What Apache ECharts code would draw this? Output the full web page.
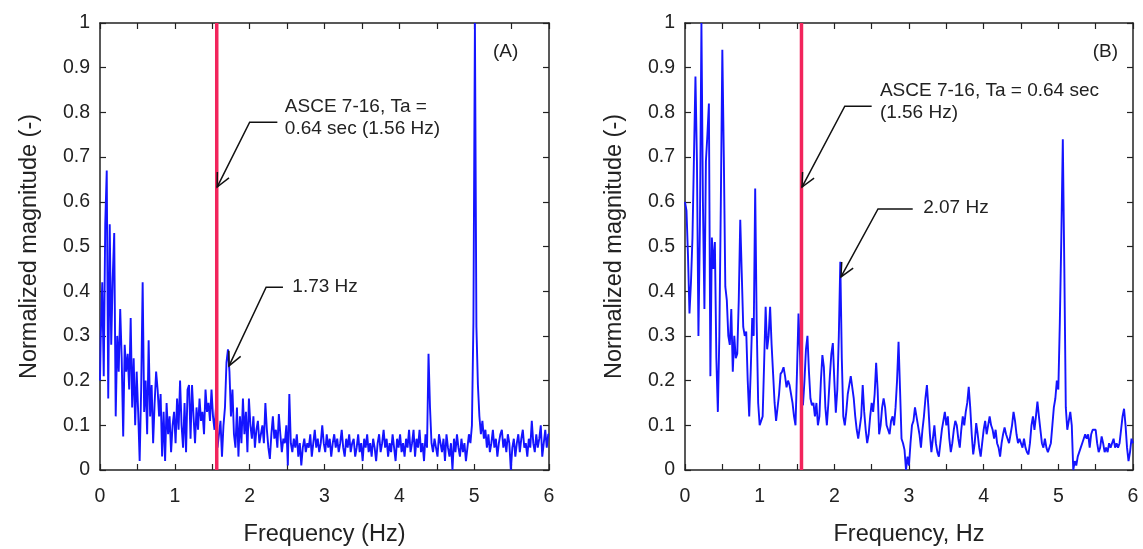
<!DOCTYPE html>
<html>
<head>
<meta charset="utf-8">
<title>Normalized magnitude spectra</title>
<script src="https://cdn.jsdelivr.net/npm/echarts@6/dist/echarts.min.js"></script>
<style>
  html, body { margin: 0; padding: 0; background: #fff; }
  #chart { width: 1143px; height: 549px; }
</style>
</head>
<body>
<div id="chart"></div>
<script>
  // frequency resolution of the read-off spectra (Hz)
  const freqStep = 0.02;

  // panel (A) normalized magnitude, 0 .. 6 Hz
  const magA = [
    0.20, 0.30, 0.42, 0.21, 0.55, 0.67, 0.16, 0.55, 0.28, 0.43,
    0.53, 0.12, 0.30, 0.22, 0.36, 0.25, 0.075, 0.28, 0.22, 0.26,
    0.18, 0.34, 0.14, 0.25, 0.10, 0.22, 0.13, 0.02, 0.18, 0.42,
    0.13, 0.20, 0.08, 0.29, 0.12, 0.19, 0.06, 0.15, 0.22, 0.18,
    0.12, 0.17, 0.03, 0.13, 0.02, 0.15, 0.08, 0.12, 0.04, 0.10,
    0.13, 0.06, 0.16, 0.09, 0.20, 0.10, 0.05, 0.15, 0.04, 0.18,
    0.19, 0.07, 0.19, 0.12, 0.06, 0.14, 0.09, 0.16, 0.11, 0.13,
    0.08, 0.18, 0.13, 0.15, 0.11, 0.18, 0.12, 0.09, 0.14, 0.05,
    0.08, 0.11, 0.03, 0.10, 0.14, 0.24, 0.27, 0.22, 0.12, 0.18,
    0.08, 0.05, 0.14, 0.03, 0.12, 0.06, 0.16, 0.08, 0.13, 0.04,
    0.16, 0.10, 0.07, 0.12, 0.05, 0.09, 0.11, 0.06, 0.08, 0.10,
    0.06, 0.15, 0.09, 0.05, 0.025, 0.08, 0.12, 0.07, 0.09, 0.05,
    0.125, 0.08, 0.04, 0.07, 0.06, 0.10, 0.01, 0.17, 0.06, 0.04,
    0.07, 0.05, 0.08, 0.03, 0.06, 0.01, 0.05, 0.07, 0.04, 0.06,
    0.05, 0.08, 0.03, 0.06, 0.09, 0.05, 0.07, 0.04, 0.06, 0.10,
    0.06, 0.04, 0.08, 0.05, 0.07, 0.03, 0.06, 0.08, 0.05, 0.07,
    0.04, 0.06, 0.09, 0.05, 0.03, 0.07, 0.05, 0.08, 0.04, 0.06,
    0.07, 0.03, 0.05, 0.08, 0.04, 0.06, 0.02, 0.07, 0.05, 0.08,
    0.04, 0.06, 0.03, 0.07, 0.05, 0.02, 0.06, 0.08, 0.04, 0.06,
    0.09, 0.05, 0.07, 0.03, 0.06, 0.04, 0.08, 0.05, 0.02, 0.07,
    0.05, 0.08, 0.04, 0.06, 0.03, 0.07, 0.05, 0.09, 0.04, 0.06,
    0.09, 0.03, 0.07, 0.05, 0.09, 0.04, 0.06, 0.02, 0.08, 0.05,
    0.26, 0.14, 0.06, 0.04, 0.07, 0.05, 0.03, 0.08, 0.06, 0.04,
    0.07, 0.02, 0.08, 0.05, 0.03, 0.06, 0.00, 0.07, 0.04, 0.08,
    0.05, 0.03, 0.07, 0.04, 0.06, 0.02, 0.05, 0.08, 0.06, 0.10,
    0.33, 1.00, 0.32, 0.19, 0.12, 0.08, 0.11, 0.07, 0.09, 0.05,
    0.08, 0.04, 0.06, 0.09, 0.05, 0.07, 0.03, 0.06, 0.08, 0.09,
    0.05, 0.07, 0.04, 0.08, 0.06, 0.00, 0.05, 0.07, 0.03, 0.06,
    0.08, 0.04, 0.07, 0.09, 0.05, 0.06, 0.03, 0.07, 0.05, 0.11,
    0.06, 0.04, 0.08, 0.05, 0.07, 0.10, 0.03, 0.06, 0.09, 0.05,
    0.08
  ];

  // panel (B) normalized magnitude, 0 .. 6 Hz
  const magB = [
    0.60, 0.58, 0.48, 0.35, 0.42, 0.52, 0.70, 0.88, 0.69, 0.30,
    0.55, 1.00, 0.60, 0.36, 0.69, 0.75, 0.82, 0.21, 0.52, 0.45,
    0.51, 0.25, 0.13, 0.30, 0.60, 0.94, 0.70, 0.41, 0.38, 0.30,
    0.28, 0.36, 0.22, 0.30, 0.25, 0.26, 0.38, 0.56, 0.44, 0.32,
    0.30, 0.31, 0.20, 0.12, 0.22, 0.34, 0.30, 0.63, 0.33, 0.15,
    0.10, 0.10, 0.12, 0.24, 0.365, 0.27, 0.30, 0.365, 0.28, 0.215,
    0.15, 0.11, 0.11, 0.17, 0.215, 0.22, 0.23, 0.21, 0.185, 0.20,
    0.19, 0.17, 0.15, 0.12, 0.10, 0.22, 0.35, 0.26, 0.15, 0.145,
    0.20, 0.27, 0.30, 0.22, 0.16, 0.145, 0.15, 0.12, 0.15, 0.10,
    0.12, 0.20, 0.257, 0.23, 0.14, 0.10, 0.15, 0.21, 0.26, 0.284,
    0.20, 0.128, 0.18, 0.30, 0.466, 0.25, 0.12, 0.10, 0.13, 0.17,
    0.19, 0.21, 0.21, 0.16, 0.12, 0.09, 0.07, 0.07, 0.12, 0.19,
    0.13, 0.09, 0.06, 0.08, 0.12, 0.15, 0.13, 0.17, 0.24, 0.18,
    0.08, 0.10, 0.14, 0.16, 0.14, 0.10, 0.09, 0.08, 0.11, 0.12,
    0.10, 0.14, 0.20, 0.287, 0.18, 0.07, 0.06, 0.045, 0.00, 0.03,
    0.01, 0.06, 0.10, 0.11, 0.14, 0.12, 0.10, 0.08, 0.05, 0.09,
    0.12, 0.16, 0.19, 0.14, 0.08, 0.04, 0.07, 0.10, 0.06, 0.04,
    0.03, 0.06, 0.09, 0.11, 0.13, 0.10, 0.12, 0.07, 0.04, 0.06,
    0.09, 0.11, 0.10, 0.07, 0.05, 0.09, 0.12, 0.10, 0.13, 0.15,
    0.186, 0.14, 0.08, 0.035, 0.06, 0.105, 0.08, 0.05, 0.03, 0.06,
    0.09, 0.11, 0.08, 0.10, 0.12, 0.10, 0.09, 0.07, 0.09, 0.06,
    0.05, 0.03, 0.06, 0.08, 0.095, 0.08, 0.07, 0.06, 0.08, 0.10,
    0.13, 0.11, 0.08, 0.06, 0.07, 0.06, 0.05, 0.07, 0.05, 0.04,
    0.035, 0.06, 0.10, 0.12, 0.09, 0.12, 0.153, 0.12, 0.09, 0.06,
    0.05, 0.07, 0.05, 0.04, 0.04, 0.06, 0.10, 0.14, 0.16, 0.20,
    0.18, 0.33, 0.52, 0.74, 0.455, 0.14, 0.09, 0.11, 0.13, 0.10,
    0.00, 0.02, 0.01, 0.03, 0.04, 0.05, 0.06, 0.07, 0.08, 0.07,
    0.08, 0.05, 0.08, 0.09, 0.088, 0.09, 0.06, 0.04, 0.05, 0.075,
    0.06, 0.04, 0.05, 0.04, 0.06, 0.05, 0.05, 0.07, 0.05, 0.06,
    0.05, 0.06, 0.09, 0.12, 0.137, 0.10, 0.05, 0.02, 0.04, 0.07,
    0.06
  ];

  // ASCE 7-16 approximate period line (Ta = 0.64 sec)
  const codeFreq = 1.56;

  // callouts in data units: arrow tip, elbow, end of leader, text anchor
  const notesA = [
    { tip: [1.565, 0.633], elbow: [2.0, 0.778], end: [2.37, 0.778], at: [2.47, 0.787], text: 'ASCE 7-16, Ta =\n0.64 sec (1.56 Hz)' },
    { tip: [1.724, 0.233], elbow: [2.22, 0.409], end: [2.445, 0.409], at: [2.57, 0.41], text: '1.73 Hz' },
    { at: [5.25, 0.935], text: '(A)' },
  ];
  const notesB = [
    { tip: [1.567, 0.633], elbow: [2.14, 0.814], end: [2.5, 0.814], at: [2.61, 0.824], text: 'ASCE 7-16, Ta = 0.64 sec\n(1.56 Hz)' },
    { tip: [2.089, 0.432], elbow: [2.585, 0.584], end: [3.05, 0.584], at: [3.19, 0.586], text: '2.07 Hz' },
    { at: [5.46, 0.935], text: '(B)' },
  ];

  const font = "'Liberation Sans', Arial, sans-serif";
  const ink = '#222';

  function toPairs(arr) {
    return arr.map((v, i) => [+(i * freqStep).toFixed(2), v]);
  }

  function xAxisDef(grid, pos, name) {
    return {
      type: 'value',
      gridIndex: grid,
      position: pos,
      min: 0,
      max: 6,
      interval: 0.5,
      name: pos === 'bottom' ? name : '',
      nameLocation: 'middle',
      nameGap: 53,
      nameTextStyle: { fontFamily: font, fontSize: 23.5, color: ink },
      axisLine: { show: true, onZero: false, lineStyle: { color: ink, width: 1.5 } },
      axisTick: { show: true, inside: true, length: 6, lineStyle: { color: ink, width: 1.2 } },
      axisLabel: {
        show: pos === 'bottom',
        margin: 17,
        fontFamily: font,
        fontSize: 19.5,
        color: ink,
        formatter: (v) => (Number.isInteger(v) ? String(v) : ''),
      },
      splitLine: { show: false },
    };
  }

  function yAxisDef(grid, pos) {
    return {
      type: 'value',
      gridIndex: grid,
      position: pos,
      min: 0,
      max: 1,
      interval: 0.1,
      name: pos === 'left' ? 'Normalized magnitude (-)' : '',
      nameLocation: 'middle',
      nameGap: 58,
      nameTextStyle: { fontFamily: font, fontSize: 23.5, color: ink },
      axisLine: { show: true, onZero: false, lineStyle: { color: ink, width: 1.5 } },
      axisTick: { show: true, inside: true, length: 6, lineStyle: { color: ink, width: 1.2 } },
      axisLabel: { show: pos === 'left', margin: 10, fontFamily: font, fontSize: 19.5, color: ink },
      splitLine: { show: false },
    };
  }

  function spectrum(idx, arr, step) {
    return {
      type: 'line',
      xAxisIndex: idx * 2,
      yAxisIndex: idx * 2,
      data: toPairs(arr),
      step: step,
      showSymbol: false,
      symbol: 'none',
      silent: true,
      z: 2,
      lineStyle: { color: '#1414ff', width: 1.9 },
    };
  }

  function codeLine(idx) {
    return {
      type: 'line',
      xAxisIndex: idx * 2,
      yAxisIndex: idx * 2,
      data: [[codeFreq, 0], [codeFreq, 1]],
      symbol: 'none',
      silent: true,
      z: 3,
      lineStyle: { color: '#f2245c', width: 3.5 },
    };
  }

  function callouts(idx, notes) {
    return {
      type: 'custom',
      xAxisIndex: idx * 2,
      yAxisIndex: idx * 2,
      silent: true,
      clip: false,
      z: 5,
      data: notes.map((n, i) => [i]),
      renderItem(params, api) {
        const n = notes[api.value(0)];
        const children = [];
        if (n.tip) {
          const tip = api.coord(n.tip);
          const elbow = api.coord(n.elbow);
          const end = api.coord(n.end);
          const ang = Math.atan2(elbow[1] - tip[1], elbow[0] - tip[0]);
          const len = 15;
          const spread = 0.45;
          const h1 = [tip[0] + len * Math.cos(ang - spread), tip[1] + len * Math.sin(ang - spread)];
          const h2 = [tip[0] + len * Math.cos(ang + spread), tip[1] + len * Math.sin(ang + spread)];
          children.push({
            type: 'polyline',
            shape: { points: [tip, elbow, end] },
            style: { stroke: '#111', lineWidth: 1.5, fill: null },
          });
          children.push({
            type: 'polyline',
            shape: { points: [h1, tip, h2] },
            style: { stroke: '#111', lineWidth: 1.5, fill: null },
          });
        }
        const p = api.coord(n.at);
        children.push({
          type: 'text',
          x: p[0],
          y: p[1],
          style: {
            text: n.text,
            fill: ink,
            fontFamily: font,
            fontSize: 19,
            lineHeight: 22,
            align: 'left',
            verticalAlign: 'middle',
          },
        });
        return { type: 'group', children };
      },
    };
  }

  const chart = echarts.init(document.getElementById('chart'));
  chart.setOption({
    backgroundColor: '#fff',
    animation: false,
    grid: [
      { left: 100, top: 23, width: 449, height: 447, outerBoundsMode: 'none', containLabel: false },
      { left: 685, top: 23, width: 448, height: 447, outerBoundsMode: 'none', containLabel: false },
    ],
    xAxis: [
      xAxisDef(0, 'bottom', 'Frequency (Hz)'),
      xAxisDef(0, 'top', ''),
      xAxisDef(1, 'bottom', 'Frequency, Hz'),
      xAxisDef(1, 'top', ''),
    ],
    yAxis: [
      yAxisDef(0, 'left'),
      yAxisDef(0, 'right'),
      yAxisDef(1, 'left'),
      yAxisDef(1, 'right'),
    ],
    series: [
      spectrum(0, magA, 'middle'),
      spectrum(1, magB, false),
      codeLine(0),
      codeLine(1),
      callouts(0, notesA),
      callouts(1, notesB),
    ],
  });
</script>
</body>
</html>
